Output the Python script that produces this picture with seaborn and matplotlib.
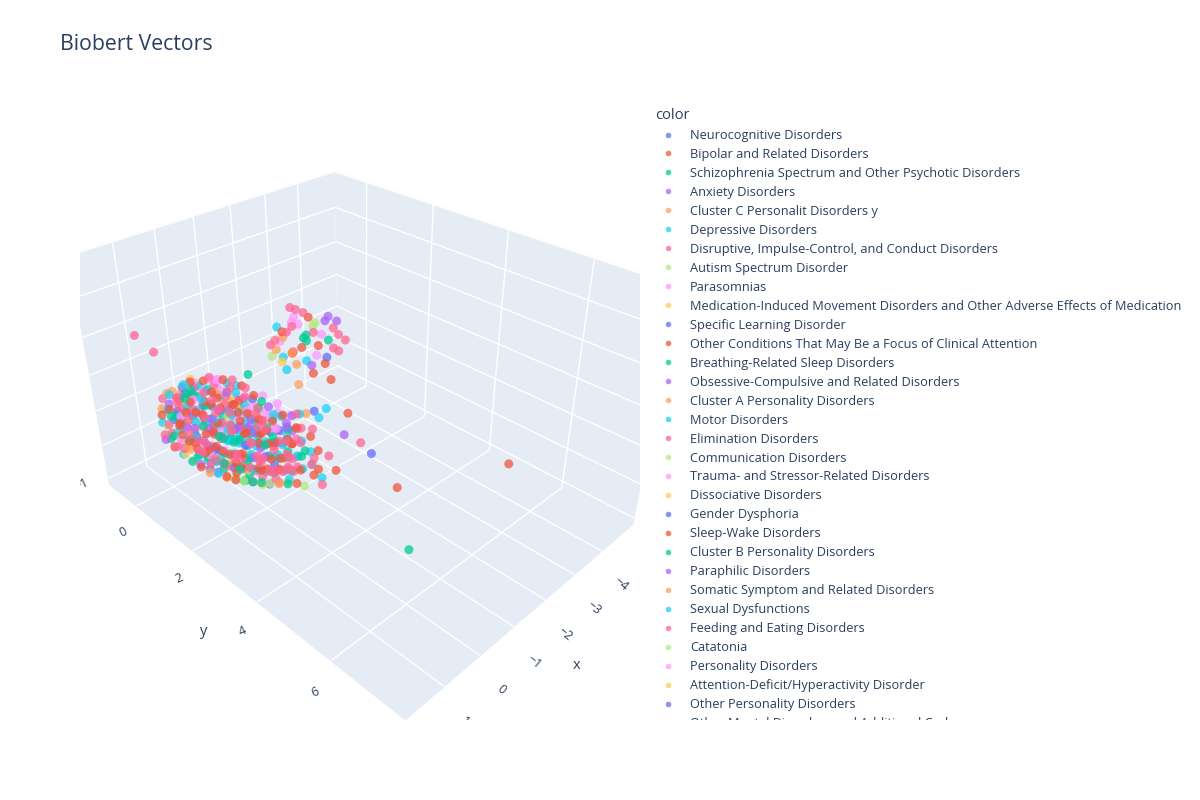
import matplotlib
matplotlib.use("Agg")
import pandas as pd
import matplotlib.pyplot as plt
import seaborn as sns
from matplotlib.lines import Line2D
from matplotlib.patches import Rectangle

CATEGORIES = [
    "Neurocognitive Disorders",
    "Bipolar and Related Disorders",
    "Schizophrenia Spectrum and Other Psychotic Disorders",
    "Anxiety Disorders",
    "Cluster C Personalit Disorders y",
    "Depressive Disorders",
    "Disruptive, Impulse-Control, and Conduct Disorders",
    "Autism Spectrum Disorder",
    "Parasomnias",
    "Medication-Induced Movement Disorders and Other Adverse Effects of Medication",
    "Specific Learning Disorder",
    "Other Conditions That May Be a Focus of Clinical Attention",
    "Breathing-Related Sleep Disorders",
    "Obsessive-Compulsive and Related Disorders",
    "Cluster A Personality Disorders",
    "Motor Disorders",
    "Elimination Disorders",
    "Communication Disorders",
    "Trauma- and Stressor-Related Disorders",
    "Dissociative Disorders",
    "Gender Dysphoria",
    "Sleep-Wake Disorders",
    "Cluster B Personality Disorders",
    "Paraphilic Disorders",
    "Somatic Symptom and Related Disorders",
    "Sexual Dysfunctions",
    "Feeding and Eating Disorders",
    "Catatonia",
    "Personality Disorders",
    "Attention-Deficit/Hyperactivity Disorder",
    "Other Personality Disorders",
    "Other Mental Disorders and Additional Codes",
]

PLOTLY_COLORS = ["#636efa", "#EF553B", "#00cc96", "#ab63fa", "#FFA15A",
                 "#19d3f3", "#FF6692", "#B6E880", "#FF97FF", "#FECB52"]

X_TICKS = [-4, -3, -2, -1, 0, 1]
Y_TICKS = [0, 2, 4, 6]
Z_TICKS = [-1, 0, 1, 2, 3, 4, 5]

# (x, y, z, category index)
BLOB_POINTS = [
    (0.66, -0.62, -0.30, 3), (0.61, -0.55, 0.12, 17), (0.70, -0.58, 0.48, 1), (0.58, -0.66, 0.86, 26),
    (0.52, -0.41, -0.48, 6), (0.60, -0.37, -0.08, 12), (0.49, -0.44, 0.31, 0), (0.63, -0.36, 0.72, 21),
    (0.55, -0.42, 1.08, 5), (0.45, -0.21, -0.62, 9), (0.53, -0.18, -0.19, 14), (0.41, -0.24, 0.22, 2),
    (0.50, -0.15, 0.57, 28), (0.44, -0.22, 0.98, 11), (0.36, -0.19, 1.32, 7), (0.38, 0.02, -0.71, 19),
    (0.46, -0.03, -0.28, 4), (0.33, 0.05, 0.11, 24), (0.42, 0.01, 0.49, 16), (0.29, -0.04, 0.93, 1),
    (0.40, 0.03, 1.27, 22), (0.35, 0.18, -0.78, 13), (0.28, 0.22, -0.41, 6), (0.37, 0.19, 0.02, 30),
    (0.26, 0.24, 0.38, 8), (0.31, 0.17, 0.81, 25), (0.22, 0.21, 1.19, 2), (0.30, 0.25, 1.52, 15),
    (0.27, 0.41, -0.83, 10), (0.19, 0.38, -0.47, 18), (0.25, 0.43, -0.12, 27), (0.16, 0.39, 0.33, 3),
    (0.28, 0.42, 0.68, 20), (0.20, 0.37, 1.12, 11), (0.14, 0.44, 1.47, 5), (0.18, 0.58, -0.88, 23),
    (0.12, 0.62, -0.52, 29), (0.21, 0.59, -0.18, 0), (0.09, 0.63, 0.19, 12), (0.17, 0.57, 0.54, 31),
    (0.11, 0.61, 0.87, 6), (0.19, 0.64, 1.29, 16), (0.06, 0.58, 1.63, 26), (0.11, 0.79, -0.93, 1),
    (0.04, 0.82, -0.58, 14), (0.09, 0.78, -0.22, 22), (0.02, 0.83, 0.13, 5), (0.12, 0.81, 0.47, 8),
    (0.05, 0.77, 0.84, 2), (-0.01, 0.84, 1.21, 19), (0.07, 0.80, 1.58, 28), (0.03, 1.01, -0.87, 7),
    (-0.04, 0.98, -0.49, 21), (0.01, 1.03, -0.16, 3), (-0.06, 0.97, 0.22, 25), (0.04, 1.02, 0.53, 6),
    (-0.02, 0.99, 0.91, 13), (-0.08, 1.04, 1.24, 11), (0.02, 0.96, 1.61, 4), (-0.05, 1.19, -0.91, 17),
    (-0.12, 1.22, -0.57, 2), (-0.07, 1.18, -0.23, 26), (-0.14, 1.23, 0.14, 0), (-0.04, 1.21, 0.46, 15),
    (-0.10, 1.17, 0.83, 1), (-0.16, 1.24, 1.18, 24), (-0.06, 1.20, 1.52, 8), (-0.13, 1.41, -0.86, 12),
    (-0.19, 1.38, -0.52, 5), (-0.12, 1.43, -0.09, 30), (-0.21, 1.37, 0.24, 6), (-0.15, 1.42, 0.58, 22),
    (-0.23, 1.39, 0.93, 3), (-0.11, 1.44, 1.27, 18), (-0.21, 1.62, -0.82, 9), (-0.27, 1.58, -0.47, 1),
    (-0.20, 1.61, -0.13, 16), (-0.29, 1.63, 0.28, 25), (-0.23, 1.57, 0.61, 2), (-0.31, 1.64, 0.98, 11),
    (-0.26, 1.59, 1.36, 6), (-0.29, 1.79, -0.78, 20), (-0.35, 1.83, -0.43, 26), (-0.28, 1.77, 0.03, 13),
    (-0.37, 1.82, 0.41, 15), (-0.31, 1.78, 0.79, 21), (-0.38, 1.84, 1.21, 8), (-0.37, 2.01, -0.68, 4),
    (-0.44, 1.97, -0.31, 1), (-0.39, 2.03, 0.08, 5), (-0.46, 1.99, 0.52, 16), (-0.41, 2.02, 0.88, 0),
    (-0.49, 1.96, 1.29, 28), (-0.45, 2.21, -0.61, 22), (-0.52, 2.18, -0.22, 6), (-0.47, 2.23, 0.19, 25),
    (-0.54, 2.17, 0.63, 11), (-0.50, 2.22, 1.02, 3), (-0.53, 2.41, -0.52, 1), (-0.59, 2.38, -0.08, 26),
    (-0.55, 2.43, 0.29, 15), (-0.61, 2.37, 0.71, 6), (-0.57, 2.42, 1.08, 21), (-0.63, 2.39, 1.41, 16),
    (0.35, -0.49, -0.10, 5), (0.38, -0.52, 0.30, 22), (0.33, -0.47, 0.70, 6), (0.40, -0.53, 1.05, 14),
    (0.27, -0.31, -0.35, 2), (0.30, -0.28, 0.05, 18), (0.24, -0.33, 0.45, 1), (0.31, -0.27, 0.85, 29),
    (0.26, -0.32, 1.20, 13), (0.19, -0.11, -0.55, 11), (0.23, -0.08, -0.15, 25), (0.16, -0.12, 0.25, 7),
    (0.22, -0.07, 0.65, 16), (0.18, -0.13, 1.05, 0), (0.13, -0.09, 1.40, 8), (0.12, 0.09, -0.60, 21),
    (0.16, 0.12, -0.20, 3), (0.10, 0.08, 0.20, 12), (0.15, 0.13, 0.60, 26), (0.09, 0.11, 1.00, 5),
    (0.14, 0.07, 1.45, 19), (0.04, 0.31, -0.70, 6), (0.08, 0.28, -0.30, 24), (0.02, 0.33, 0.10, 1),
    (0.07, 0.29, 0.50, 15), (0.01, 0.32, 0.90, 22), (0.06, 0.27, 1.30, 2), (0.03, 0.34, 1.65, 28),
    (-0.03, 0.51, -0.75, 16), (0.01, 0.48, -0.35, 10), (-0.05, 0.53, 0.05, 25), (0.00, 0.49, 0.45, 11),
    (-0.06, 0.52, 0.85, 6), (-0.02, 0.47, 1.25, 13), (-0.04, 0.54, 1.70, 18), (-0.11, 0.69, -0.80, 4),
    (-0.07, 0.72, -0.40, 1), (-0.12, 0.68, 0.00, 22), (-0.08, 0.73, 0.35, 5), (-0.13, 0.71, 0.70, 17),
    (-0.09, 0.67, 1.05, 26), (-0.14, 0.74, 1.40, 3), (-0.10, 0.70, 1.75, 21), (-0.18, 0.91, -0.80, 12),
    (-0.15, 0.88, -0.35, 6), (-0.20, 0.93, 0.00, 15), (-0.16, 0.89, 0.40, 0), (-0.21, 0.92, 0.75, 28),
    (-0.17, 0.87, 1.10, 11), (-0.22, 0.94, 1.45, 25), (-0.19, 0.90, 1.80, 16), (-0.26, 1.11, -0.75, 9),
    (-0.23, 1.08, -0.40, 2), (-0.28, 1.13, 0.00, 23), (-0.24, 1.09, 0.35, 1), (-0.29, 1.12, 0.70, 5),
    (-0.25, 1.07, 1.05, 14), (-0.30, 1.14, 1.40, 6), (-0.27, 1.10, 1.70, 21), (-0.34, 1.31, -0.70, 26),
    (-0.31, 1.28, -0.30, 13), (-0.36, 1.33, 0.05, 15), (-0.32, 1.29, 0.45, 3), (-0.37, 1.32, 0.80, 22),
    (-0.33, 1.27, 1.15, 8), (-0.38, 1.34, 1.50, 1), (-0.42, 1.51, -0.65, 5), (-0.39, 1.48, -0.25, 16),
    (-0.44, 1.53, 0.15, 12), (-0.40, 1.49, 0.50, 11), (-0.45, 1.52, 0.85, 6), (-0.41, 1.47, 1.20, 24),
    (-0.46, 1.54, 1.55, 18), (-0.50, 1.71, -0.60, 2), (-0.47, 1.68, -0.20, 21), (-0.52, 1.73, 0.20, 26),
    (-0.48, 1.69, 0.60, 0), (-0.53, 1.72, 0.95, 15), (-0.49, 1.67, 1.30, 3), (-0.58, 1.91, -0.50, 6),
    (-0.55, 1.88, -0.10, 1), (-0.60, 1.93, 0.30, 25), (-0.56, 1.89, 0.70, 13), (-0.61, 1.92, 1.10, 5),
    (-0.57, 1.87, 1.45, 28), (-0.66, 2.11, -0.40, 22), (-0.63, 2.08, 0.00, 16), (-0.68, 2.13, 0.40, 11),
    (-0.64, 2.09, 0.80, 2), (-0.69, 2.12, 1.20, 8), (-0.74, 2.31, -0.30, 1), (-0.71, 2.28, 0.10, 15),
    (-0.76, 2.33, 0.50, 6), (-0.72, 2.29, 0.90, 26), (-0.77, 2.32, 1.30, 5),
]

BLOB_POINTS_INNER = [
    (0.74, -0.50, -0.05, 6), (0.77, -0.48, 0.35, 15), (0.72, -0.52, 0.70, 4), (0.66, -0.30, -0.35, 1),
    (0.69, -0.28, 0.10, 26), (0.64, -0.31, 0.55, 12), (0.68, -0.27, 0.95, 3), (0.58, -0.10, -0.50, 25),
    (0.61, -0.08, -0.05, 8), (0.56, -0.12, 0.40, 21), (0.60, -0.09, 0.80, 0), (0.55, -0.11, 1.15, 16),
    (0.50, 0.10, -0.65, 2), (0.53, 0.12, -0.25, 14), (0.48, 0.09, 0.15, 6), (0.52, 0.13, 0.55, 29),
    (0.47, 0.08, 0.95, 5), (0.51, 0.11, 1.35, 13), (0.42, 0.30, -0.75, 11), (0.45, 0.32, -0.35, 22),
    (0.40, 0.29, 0.05, 16), (0.44, 0.33, 0.45, 7), (0.39, 0.28, 0.85, 1), (0.43, 0.31, 1.25, 18),
    (0.41, 0.34, 1.60, 26), (0.34, 0.50, -0.85, 4), (0.37, 0.52, -0.45, 15), (0.32, 0.49, -0.05, 3),
    (0.36, 0.53, 0.35, 21), (0.31, 0.48, 0.75, 6), (0.35, 0.51, 1.15, 10), (0.33, 0.54, 1.55, 8),
    (0.26, 0.70, -0.80, 25), (0.29, 0.72, -0.40, 2), (0.24, 0.69, 0.00, 11), (0.28, 0.73, 0.40, 16),
    (0.23, 0.68, 0.80, 5), (0.27, 0.71, 1.20, 23), (0.25, 0.74, 1.60, 1), (0.18, 0.90, -0.85, 14),
    (0.21, 0.92, -0.45, 6), (0.16, 0.89, -0.05, 28), (0.20, 0.93, 0.35, 12), (0.15, 0.88, 0.75, 26),
    (0.19, 0.91, 1.15, 0), (0.17, 0.94, 1.55, 15), (0.10, 1.10, -0.85, 21), (0.13, 1.12, -0.45, 3),
    (0.08, 1.09, -0.05, 17), (0.12, 1.13, 0.35, 5), (0.07, 1.08, 0.75, 22), (0.11, 1.11, 1.15, 6),
    (0.09, 1.14, 1.55, 9), (0.02, 1.30, -0.80, 2), (0.05, 1.32, -0.40, 16), (0.00, 1.29, 0.00, 1),
    (0.04, 1.33, 0.40, 24), (-0.01, 1.28, 0.80, 13), (0.03, 1.31, 1.20, 25), (0.01, 1.34, 1.55, 11),
    (-0.06, 1.50, -0.75, 6), (-0.03, 1.52, -0.35, 20), (-0.08, 1.49, 0.05, 15), (-0.04, 1.53, 0.45, 26),
    (-0.09, 1.48, 0.85, 3), (-0.05, 1.51, 1.25, 1), (-0.14, 1.70, -0.70, 12), (-0.11, 1.72, -0.30, 5),
    (-0.16, 1.69, 0.10, 28), (-0.12, 1.73, 0.50, 21), (-0.17, 1.68, 0.90, 16), (-0.13, 1.71, 1.25, 4),
    (-0.22, 1.90, -0.65, 7), (-0.19, 1.92, -0.25, 6), (-0.24, 1.89, 0.15, 22), (-0.20, 1.93, 0.55, 11),
    (-0.25, 1.88, 0.95, 2), (-0.30, 2.10, -0.55, 26), (-0.27, 2.12, -0.15, 1), (-0.32, 2.09, 0.25, 15),
    (-0.28, 2.13, 0.65, 3), (-0.33, 2.08, 1.00, 18), (-0.38, 2.30, -0.45, 19), (-0.35, 2.32, -0.05, 5),
    (-0.40, 2.29, 0.35, 16), (-0.36, 2.33, 0.75, 6),
    (0.40, -0.40, 0.10, 1), (0.43, -0.38, 0.50, 15), (0.39, -0.42, 0.90, 6), (0.32, -0.20, -0.30, 21),
    (0.35, -0.18, 0.15, 3), (0.31, -0.22, 0.60, 26), (0.34, -0.17, 1.00, 12), (0.30, -0.21, 1.35, 5),
    (0.24, 0.00, -0.50, 16), (0.27, 0.02, -0.05, 0), (0.23, -0.01, 0.35, 25), (0.26, 0.03, 0.75, 8),
    (0.22, 0.01, 1.15, 2), (0.25, -0.02, 1.50, 11), (0.16, 0.20, -0.65, 22), (0.19, 0.22, -0.20, 6),
    (0.15, 0.19, 0.25, 14), (0.18, 0.23, 0.65, 1), (0.14, 0.21, 1.05, 28), (0.17, 0.18, 1.45, 15),
    (0.08, 0.40, -0.70, 5), (0.11, 0.42, -0.25, 13), (0.07, 0.39, 0.20, 26), (0.10, 0.43, 0.60, 3),
    (0.06, 0.41, 1.00, 21), (0.09, 0.38, 1.40, 7), (0.05, 0.42, 1.75, 16), (0.00, 0.60, -0.70, 12),
    (0.03, 0.62, -0.30, 1), (-0.01, 0.59, 0.10, 6), (0.02, 0.63, 0.55, 25), (-0.02, 0.61, 0.95, 11),
    (0.01, 0.58, 1.35, 4), (-0.03, 0.62, 1.75, 18), (-0.08, 0.80, -0.70, 2), (-0.05, 0.82, -0.30, 15),
    (-0.09, 0.79, 0.15, 22), (-0.06, 0.83, 0.55, 6), (-0.10, 0.81, 0.95, 0), (-0.07, 0.78, 1.35, 26),
    (-0.11, 0.82, 1.70, 5), (-0.16, 1.00, -0.65, 1), (-0.13, 1.02, -0.25, 16), (-0.17, 0.99, 0.15, 12),
    (-0.14, 1.03, 0.55, 3), (-0.18, 1.01, 0.95, 21), (-0.15, 0.98, 1.35, 8), (-0.19, 1.02, 1.70, 25),
    (-0.24, 1.20, -0.60, 6), (-0.21, 1.22, -0.20, 29), (-0.25, 1.19, 0.20, 15), (-0.22, 1.23, 0.60, 11),
    (-0.26, 1.21, 1.00, 2), (-0.23, 1.18, 1.40, 13), (-0.27, 1.22, 1.70, 16), (-0.32, 1.40, -0.55, 1),
    (-0.29, 1.42, -0.15, 26), (-0.33, 1.39, 0.25, 5), (-0.30, 1.43, 0.65, 22), (-0.34, 1.41, 1.05, 6),
    (-0.31, 1.38, 1.45, 0), (-0.40, 1.60, -0.50, 21), (-0.37, 1.62, -0.10, 3), (-0.41, 1.59, 0.30, 15),
    (-0.38, 1.63, 0.70, 16), (-0.42, 1.61, 1.10, 8), (-0.39, 1.58, 1.45, 12), (-0.48, 1.80, -0.45, 6),
    (-0.45, 1.82, -0.05, 25), (-0.49, 1.79, 0.35, 1), (-0.46, 1.83, 0.75, 28), (-0.50, 1.81, 1.15, 5),
    (-0.56, 2.00, -0.40, 26), (-0.53, 2.02, 0.00, 11), (-0.57, 1.99, 0.40, 2), (-0.54, 2.03, 0.80, 15),
    (-0.58, 2.01, 1.20, 21), (-0.64, 2.20, -0.35, 16), (-0.61, 2.22, 0.05, 6), (-0.65, 2.19, 0.45, 1),
    (-0.62, 2.23, 0.85, 13), (-0.66, 2.21, 1.25, 3), (-0.72, 2.40, -0.20, 25), (-0.69, 2.42, 0.20, 22),
    (-0.73, 2.39, 0.60, 5), (-0.70, 2.43, 1.00, 26), (-0.80, 2.60, 0.00, 6), (-0.77, 2.62, 0.40, 15),
    (-0.81, 2.59, 0.80, 1),
    (0.63, -0.45, -0.20, 2), (0.65, -0.43, 0.25, 16), (0.61, -0.46, 0.65, 5), (0.50, -0.15, -0.40, 26),
    (0.53, -0.13, 0.05, 1), (0.49, -0.16, 0.45, 13), (0.52, -0.14, 0.85, 6), (0.48, -0.12, 1.20, 24),
    (0.38, 0.15, -0.55, 15), (0.41, 0.17, -0.10, 21), (0.37, 0.14, 0.30, 3), (0.40, 0.16, 0.70, 0),
    (0.36, 0.13, 1.10, 26), (0.39, 0.18, 1.45, 12), (0.26, 0.45, -0.65, 6), (0.29, 0.47, -0.20, 1),
    (0.25, 0.44, 0.25, 28), (0.28, 0.46, 0.65, 5), (0.24, 0.43, 1.05, 22), (0.27, 0.48, 1.45, 16),
    (0.23, 0.45, 1.75, 11), (0.14, 0.75, -0.70, 2), (0.17, 0.77, -0.25, 25), (0.13, 0.74, 0.20, 6),
    (0.16, 0.76, 0.60, 15), (0.12, 0.73, 1.00, 3), (0.15, 0.78, 1.40, 21), (0.11, 0.75, 1.75, 8),
    (0.02, 1.05, -0.70, 1), (0.05, 1.07, -0.25, 16), (0.01, 1.04, 0.20, 12), (0.04, 1.06, 0.60, 26),
    (0.00, 1.03, 1.00, 5), (0.03, 1.08, 1.40, 13), (-0.01, 1.05, 1.75, 6), (-0.10, 1.35, -0.65, 22),
    (-0.07, 1.37, -0.20, 2), (-0.11, 1.34, 0.20, 15), (-0.08, 1.36, 0.60, 1), (-0.12, 1.33, 1.00, 28),
    (-0.09, 1.38, 1.40, 25), (-0.22, 1.65, -0.60, 16), (-0.19, 1.67, -0.15, 6), (-0.23, 1.64, 0.25, 3),
    (-0.20, 1.66, 0.65, 11), (-0.24, 1.63, 1.05, 21), (-0.21, 1.68, 1.40, 5), (-0.34, 1.95, -0.55, 26),
    (-0.31, 1.97, -0.10, 0), (-0.35, 1.94, 0.30, 16), (-0.32, 1.96, 0.70, 12), (-0.36, 1.93, 1.10, 1),
    (-0.46, 2.25, -0.45, 15), (-0.43, 2.27, -0.05, 6), (-0.47, 2.24, 0.35, 22), (-0.44, 2.26, 0.75, 25),
    (-0.48, 2.23, 1.15, 3),
]

TAIL_POINTS = [
    (-1.20, 1.00, 2.35, 6), (-1.35, 1.15, 2.45, 28), (-1.50, 1.05, 2.60, 1), (-1.65, 1.20, 2.75, 16),
    (-1.80, 1.10, 2.90, 8), (-1.95, 1.00, 3.00, 26), (-1.40, 1.45, 2.25, 4), (-1.55, 1.60, 2.40, 21),
    (-1.70, 1.50, 2.55, 12), (-1.85, 1.65, 2.70, 6), (-2.00, 1.55, 2.85, 27), (-2.10, 1.75, 2.95, 3),
    (-1.30, 1.70, 2.10, 14), (-1.45, 1.85, 2.20, 5), (-1.60, 2.00, 2.35, 18), (-1.75, 1.90, 2.50, 1),
    (-1.90, 2.05, 2.65, 2), (-2.05, 2.20, 2.80, 6), (-1.25, 1.30, 2.00, 9), (-1.50, 1.35, 2.15, 11),
    (-1.75, 2.15, 2.30, 0), (-1.95, 2.30, 2.45, 16), (-2.10, 2.35, 2.70, 26), (-1.60, 1.25, 2.90, 28),
    (-1.85, 1.35, 3.10, 6), (-1.10, 1.15, 2.15, 7), (-1.15, 1.55, 1.95, 25), (-1.40, 2.10, 2.00, 21),
    (-2.15, 2.05, 3.05, 13), (-1.70, 1.80, 3.00, 17), (-1.55, 1.75, 2.80, 22), (-1.30, 1.30, 2.65, 4),
    (-1.25, 1.10, 2.50, 16), (-1.45, 1.25, 2.70, 6), (-1.70, 1.35, 2.85, 18), (-1.90, 1.45, 3.00, 1),
    (-1.35, 1.55, 2.35, 26), (-1.60, 1.70, 2.60, 2), (-1.80, 1.95, 2.80, 28), (-2.00, 2.10, 2.95, 6),
    (-1.20, 1.40, 2.20, 15), (-1.50, 1.95, 2.10, 3), (-1.65, 2.20, 2.20, 1), (-1.85, 2.25, 2.55, 16),
    (-1.40, 1.00, 2.75, 5), (-1.75, 1.05, 3.15, 6), (-1.10, 1.30, 2.40, 24), (-2.05, 1.90, 3.15, 3),
]

OUTLIER_POINTS = [
    (-3.30, 5.80, 0.50, 1), (-0.50, 5.60, -0.30, 12), (1.20, -0.40, 3.00, 6), (0.90, -0.25, 2.50, 16),
    (-2.00, 3.20, 0.00, 0), (-1.95, 4.00, -0.50, 21), (-1.67, 3.20, 0.50, 26), (-1.63, 2.75, 0.50, 3),
    (-1.80, 2.70, 1.00, 11), (-0.07, -0.48, 1.20, 29), (0.34, -0.85, 0.80, 4), (0.12, 1.50, -0.60, 22),
    (0.00, 1.90, -0.55, 7), (-0.57, 2.60, -0.50, 27), (-0.72, 3.00, -0.30, 6), (-1.00, 2.47, 0.00, 16),
    (-1.60, 2.25, 1.00, 5), (-1.24, 2.40, 1.00, 15), (-1.04, 2.14, 0.00, 12), (-1.25, 2.33, 0.00, 1),
    (-1.28, 2.63, 0.00, 26), (-0.82, 2.60, 0.00, 25), (-0.79, 2.82, 0.00, 21), (-1.03, 3.10, 0.00, 11),
    (-0.58, 2.90, 0.00, 1), (-0.64, 3.08, 0.00, 5), (-1.34, 2.15, 1.00, 10), (-1.15, 2.10, 1.00, 14),
    (-1.29, 2.13, 0.50, 6), (-2.00, 2.00, 1.50, 21), (-1.36, 1.67, 1.50, 4), (-0.57, 0.96, 1.80, 2),
]

df = pd.DataFrame(BLOB_POINTS + BLOB_POINTS_INNER + TAIL_POINTS + OUTLIER_POINTS,
                  columns=["x", "y", "z", "code"])
df["color"] = [CATEGORIES[c] for c in df["code"]]
palette = sns.color_palette(PLOTLY_COLORS)
colors = {name: palette[i % len(palette)] for i, name in enumerate(CATEGORIES)}

sns.set_theme(style="white")
plt.rcParams["font.family"] = ["Open Sans", "DejaVu Sans"]
TEXT = "#2a3f5f"

fig = plt.figure(figsize=(12, 8), dpi=100)
ax = fig.add_axes([76 / 1200, 86 / 800, 560 / 1200, 620 / 800], projection="3d")
ax.set_proj_type("persp", focal_length=0.306)
ax.view_init(elev=32, azim=45)
ax.set_box_aspect((1.11, 1.417, 0.867), zoom=1.092)

for name, grp in df.groupby("color", sort=False):
    ax.scatter(grp["x"], grp["y"], grp["z"], color=colors[name], s=42, alpha=0.75,
               edgecolors="none", depthshade=False)

for axis in (ax.xaxis, ax.yaxis, ax.zaxis):
    axis.set_pane_color("#E5ECF6")
    axis._axinfo["grid"]["color"] = "white"
    axis._axinfo["grid"]["linewidth"] = 1.0
    axis._axinfo["tick"]["inward_factor"] = 0
    axis._axinfo["tick"]["outward_factor"] = 0
    axis.line.set_color((0, 0, 0, 0))
ax.set_xticks(X_TICKS)
ax.set_yticks(Y_TICKS)
ax.set_zticks(Z_TICKS)
ax.set_xlim(-5.2, 2.0)
ax.set_ylim(-1.05, 7.75)
ax.set_zlim(-1.2, 5.0)
ax.tick_params(axis="x", labelsize=9, labelcolor=TEXT, labelrotation=-40)
ax.tick_params(axis="y", labelsize=9, labelcolor=TEXT, labelrotation=25)
ax.tick_params(axis="z", labelsize=9, labelcolor=TEXT, labelrotation=25)
ax.set_xlabel("x", fontsize=10.5, color=TEXT)
ax.set_ylabel("y", fontsize=10.5, color=TEXT)
ax.set_zlabel("z", fontsize=10.5, color=TEXT)

# plotly clips the scene to its domain
fig.add_artist(Rectangle((0, 0), 80 / 1200, 1 - 100 / 800, transform=fig.transFigure,
                         facecolor="white", edgecolor="none", zorder=1))
fig.add_artist(Rectangle((640 / 1200, 0), 1 - 640 / 1200, 1, transform=fig.transFigure,
                         facecolor="white", edgecolor="none", zorder=1))

handles = [Line2D([0], [0], marker="o", linestyle="", markersize=4, alpha=0.75,
                  markerfacecolor=colors[name], markeredgecolor="none") for name in CATEGORIES]
leg = fig.legend(handles, CATEGORIES, loc="upper left", bbox_to_anchor=(655 / 1200, 1 - 108 / 800),
                 frameon=False, title="color", alignment="left", fontsize=9.15,
                 title_fontproperties={"size": 10.5}, labelspacing=0.47,
                 handlelength=2.0, handletextpad=0.75, borderpad=0, borderaxespad=0)
for t in leg.get_texts():
    t.set_color(TEXT)
leg.get_title().set_color(TEXT)
leg.set_zorder(5)

fig.add_artist(Rectangle((0, 0), 1, 80 / 800, transform=fig.transFigure,
                         facecolor="white", edgecolor="none", zorder=10))

fig.text(60 / 1200, 1 - 44 / 800, "Biobert Vectors", fontsize=15.3, color=TEXT, va="center")
fig.savefig("out.png", dpi=100)
